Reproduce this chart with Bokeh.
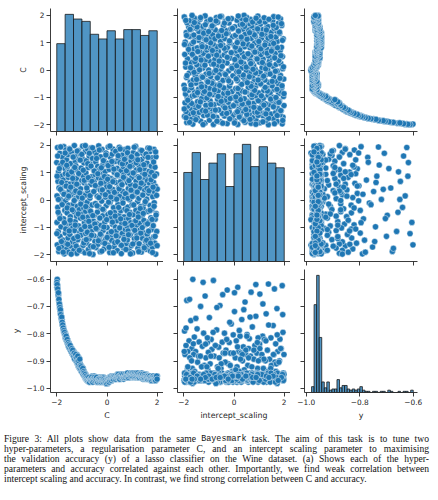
import numpy as np
from bokeh.plotting import figure
from bokeh.layouts import column, row
from bokeh.models import Range1d, FixedTicker, CustomJSTickFormatter, Div, ColumnDataSource
from bokeh.embed import file_html
from bokeh.resources import INLINE

# ---------------- data ----------------
C_vals = [
    -2.00, -1.99, -1.99, -1.98, -1.97, -1.96, -1.95, -1.94, -1.93, -1.92, -1.91, -1.89, -1.88, -1.87, -1.86,
    -1.84, -1.83, -1.82, -1.80, -1.79, -1.78, -1.77, -1.75, -1.74, -1.73, -1.72, -1.70, -1.69, -1.68,
    -1.67, -1.66, -1.66, -1.65, -1.64, -1.64, -1.63, -1.62, -1.61, -1.60, -1.60, -1.59, -1.58, -1.57, -1.56,
    -1.55, -1.55, -1.54, -1.53, -1.52, -1.51, -1.50, -1.49, -1.49, -1.48, -1.47, -1.46, -1.45, -1.44, -1.43,
    -1.42, -1.41, -1.40, -1.39, -1.38, -1.37, -1.36, -1.35, -1.34,
    -1.33, -1.32, -1.31, -1.31, -1.30, -1.29, -1.28, -1.27, -1.26, -1.26, -1.25, -1.24, -1.23, -1.22, -1.21,
    -1.20, -1.20, -1.19, -1.18, -1.17, -1.16, -1.15, -1.14, -1.13, -1.13, -1.12, -1.11, -1.10, -1.09, -1.08,
    -1.07, -1.06, -1.05, -1.04, -1.03, -1.02, -1.01,
    -1.00, -0.99, -0.98, -0.97, -0.97, -0.96, -0.95, -0.94, -0.93, -0.92, -0.91, -0.91, -0.90, -0.89, -0.88,
    -0.87, -0.86, -0.85, -0.85, -0.84, -0.83, -0.82, -0.81, -0.80, -0.79, -0.78, -0.78, -0.77, -0.76, -0.75,
    -0.74, -0.73, -0.72, -0.71, -0.70, -0.68,
    -0.67, -0.66, -0.65, -0.64, -0.63, -0.62, -0.61, -0.60, -0.59, -0.58, -0.56, -0.55, -0.54, -0.53, -0.52,
    -0.51, -0.50, -0.49, -0.48, -0.47, -0.46, -0.45, -0.44, -0.43, -0.42, -0.41, -0.40, -0.39, -0.38, -0.37,
    -0.36, -0.34,
    -0.33, -0.32, -0.31, -0.30, -0.29, -0.28, -0.27, -0.26, -0.25, -0.24, -0.23, -0.22, -0.21, -0.20, -0.19,
    -0.18, -0.17, -0.16, -0.15, -0.14, -0.13, -0.12, -0.11, -0.10, -0.09, -0.07, -0.06, -0.05, -0.04, -0.03,
    -0.01,
    0.00, 0.01, 0.03, 0.03, 0.04, 0.05, 0.07, 0.07, 0.08, 0.09, 0.11, 0.12, 0.12, 0.13, 0.15, 0.16, 0.17,
    0.17, 0.19, 0.20, 0.21, 0.22, 0.23, 0.24, 0.24, 0.26, 0.27, 0.28, 0.29, 0.30, 0.31, 0.31, 0.32,
    0.34, 0.35, 0.36, 0.37, 0.38, 0.39, 0.40, 0.41, 0.43, 0.44, 0.45, 0.46, 0.47, 0.48, 0.49, 0.50, 0.51,
    0.52, 0.53, 0.54, 0.55, 0.56, 0.57, 0.58, 0.59, 0.60, 0.61, 0.62, 0.64, 0.65, 0.66,
    0.67, 0.68, 0.69, 0.69, 0.70, 0.71, 0.72, 0.73, 0.74, 0.75, 0.76, 0.77, 0.78, 0.79, 0.80, 0.81, 0.82,
    0.83, 0.83, 0.84, 0.85, 0.86, 0.87, 0.88, 0.89, 0.90, 0.91, 0.92, 0.93, 0.94, 0.95, 0.96, 0.97, 0.99,
    1.00, 1.01, 1.02, 1.03, 1.04, 1.05, 1.06, 1.07, 1.08, 1.09, 1.10, 1.11, 1.12, 1.13, 1.14, 1.15, 1.16,
    1.17, 1.17, 1.18, 1.19, 1.20, 1.21, 1.22, 1.23, 1.24, 1.25, 1.26, 1.27, 1.28, 1.29, 1.30, 1.31, 1.32,
    1.34, 1.35, 1.36, 1.37, 1.38, 1.39, 1.40, 1.41, 1.42, 1.43, 1.44, 1.45, 1.46, 1.47, 1.48, 1.49, 1.50,
    1.51, 1.52, 1.53, 1.54, 1.55, 1.56, 1.57, 1.58, 1.59, 1.60, 1.61, 1.62, 1.63, 1.65, 1.66,
    1.67, 1.68, 1.69, 1.70, 1.71, 1.72, 1.73, 1.74, 1.75, 1.76, 1.77, 1.78, 1.79, 1.80, 1.81, 1.82, 1.83,
    1.84, 1.85, 1.86, 1.87, 1.88, 1.89, 1.90, 1.91, 1.92, 1.93, 1.94, 1.95, 1.96, 1.97, 1.98, 2.00,
    # second set of trials
    -1.995, -1.985, -1.965, -1.945, -1.935, -1.915, -1.895, -1.875, -1.855, -1.845, -1.815, -1.805, -1.785,
    -1.765, -1.745, -1.715, -1.695,
    -1.665, -1.645, -1.625, -1.605, -1.585, -1.565, -1.545, -1.525, -1.505, -1.485, -1.465, -1.445, -1.425,
    -1.405, -1.385, -1.365, -1.345,
    -1.325, -1.305, -1.285, -1.265, -1.245, -1.225, -1.205, -1.185, -1.165, -1.145, -1.125, -1.105, -1.085,
    -1.065, -1.045, -1.025, -1.005,
    -0.985, -0.965, -0.945, -0.925, -0.905, -0.885, -0.865, -0.845, -0.825, -0.805, -0.785, -0.765, -0.745,
    -0.725, -0.705, -0.695, -0.675,
    -0.655, -0.635, -0.615, -0.595, -0.575, -0.565, -0.545, -0.525, -0.505, -0.485, -0.465, -0.435, -0.415,
    -0.395, -0.365, -0.345,
    -0.325, -0.305, -0.285, -0.265, -0.245, -0.225, -0.205, -0.185, -0.165, -0.145, -0.125, -0.105, -0.085,
    -0.065, -0.045, -0.015,
    0.005, 0.025, 0.045, 0.065, 0.085, 0.105, 0.115, 0.135, 0.155, 0.175, 0.195, 0.215, 0.235, 0.255, 0.275,
    0.295, 0.325,
    0.345, 0.365, 0.385, 0.405, 0.425, 0.445, 0.465, 0.485, 0.505, 0.525, 0.545, 0.575, 0.595, 0.615, 0.635,
    0.655,
    0.675, 0.695, 0.715, 0.735, 0.755, 0.775, 0.795, 0.815, 0.835, 0.855, 0.875, 0.895, 0.915, 0.935, 0.955,
    0.975, 0.995,
    1.005, 1.025, 1.045, 1.065, 1.085, 1.105, 1.125, 1.145, 1.165, 1.185, 1.205, 1.225, 1.245, 1.265, 1.285,
    1.305, 1.325,
    1.345, 1.365, 1.385, 1.405, 1.425, 1.445, 1.465, 1.485, 1.505, 1.525, 1.555, 1.575, 1.595, 1.615, 1.635,
    1.655,
    1.675, 1.695, 1.715, 1.735, 1.755, 1.775, 1.795, 1.815, 1.835, 1.855, 1.875, 1.895, 1.915, 1.935, 1.955,
    1.975, 1.995,
]

Y_vals = [
    -0.618, -0.605, -0.630, -0.601, -0.624, -0.640, -0.648, -0.662, -0.655, -0.678, -0.684, -0.697, -0.708,
    -0.700, -0.719, -0.727, -0.741, -0.736, -0.752, -0.748, -0.764, -0.770, -0.782, -0.775, -0.786, -0.795,
    -0.790, -0.803, -0.798,
    -0.809, -0.798, -0.815, -0.804, -0.812, -0.820, -0.809, -0.821, -0.815, -0.826, -0.818, -0.831, -0.821,
    -0.832, -0.826, -0.837, -0.830, -0.843, -0.832, -0.843, -0.838, -0.848, -0.843, -0.854, -0.846, -0.854,
    -0.849, -0.860, -0.854, -0.865, -0.857, -0.865, -0.860, -0.871, -0.865, -0.876, -0.868, -0.876, -0.871,
    -0.876, -0.865, -0.882, -0.871, -0.876, -0.888, -0.871, -0.882, -0.893, -0.876, -0.888, -0.899, -0.882,
    -0.893, -0.888, -0.904, -0.876, -0.899, -0.910, -0.893, -0.904, -0.916, -0.899, -0.910, -0.921, -0.888,
    -0.916, -0.904, -0.927, -0.916, -0.910, -0.921, -0.932, -0.921, -0.927, -0.938, -0.932,
    -0.921, -0.938, -0.927, -0.932, -0.944, -0.938, -0.927, -0.944, -0.949, -0.938, -0.955, -0.944, -0.949,
    -0.955, -0.944, -0.960, -0.955, -0.949, -0.966, -0.960, -0.955, -0.966, -0.960, -0.971, -0.966, -0.960,
    -0.971, -0.966, -0.971, -0.960, -0.966, -0.971, -0.977, -0.966, -0.971, -0.966,
    -0.971, -0.960, -0.966, -0.977, -0.966, -0.960, -0.971, -0.966, -0.955, -0.966, -0.971, -0.960, -0.966,
    -0.960, -0.971, -0.955, -0.966, -0.960, -0.971, -0.966, -0.960, -0.966, -0.977, -0.966, -0.960, -0.971,
    -0.966, -0.977, -0.971, -0.966, -0.960, -0.971,
    -0.966, -0.977, -0.971, -0.966, -0.960, -0.971, -0.977, -0.966, -0.971, -0.960, -0.966, -0.971, -0.977,
    -0.966, -0.960, -0.971, -0.966, -0.977, -0.971, -0.966, -0.960, -0.971, -0.977, -0.966, -0.971, -0.966,
    -0.977, -0.971, -0.982, -0.977, -0.971,
    -0.977, -0.971, -0.982, -0.966, -0.977, -0.971, -0.966, -0.977, -0.971, -0.960, -0.966, -0.971, -0.960,
    -0.966, -0.971, -0.960, -0.966, -0.955, -0.966, -0.960, -0.971, -0.960, -0.966, -0.955, -0.966, -0.960,
    -0.966, -0.955, -0.960, -0.966, -0.955, -0.960, -0.966,
    -0.960, -0.966, -0.955, -0.960, -0.966, -0.955, -0.960, -0.949, -0.960, -0.966, -0.955, -0.960, -0.949,
    -0.955, -0.966, -0.960, -0.955, -0.960, -0.949, -0.955, -0.960, -0.966, -0.955, -0.960, -0.955, -0.949,
    -0.960, -0.955, -0.960, -0.955, -0.966,
    -0.955, -0.960, -0.949, -0.955, -0.960, -0.955, -0.949, -0.955, -0.960, -0.955, -0.949, -0.955, -0.960,
    -0.949, -0.955, -0.960, -0.955, -0.949, -0.960, -0.955, -0.944, -0.955, -0.949, -0.960, -0.955, -0.949,
    -0.955, -0.944, -0.955, -0.960, -0.949, -0.955, -0.944, -0.955,
    -0.949, -0.955, -0.944, -0.949, -0.955, -0.944, -0.949, -0.960, -0.944, -0.949, -0.955, -0.944, -0.949,
    -0.955, -0.944, -0.949, -0.955, -0.944, -0.960, -0.949, -0.944, -0.955, -0.949, -0.944, -0.955, -0.949,
    -0.960, -0.944, -0.949, -0.955, -0.949, -0.944, -0.955, -0.949,
    -0.955, -0.944, -0.960, -0.949, -0.955, -0.944, -0.960, -0.949, -0.955, -0.966, -0.949, -0.955, -0.960,
    -0.949, -0.955, -0.966, -0.955, -0.960, -0.949, -0.955, -0.960, -0.966, -0.955, -0.960, -0.949, -0.955,
    -0.966, -0.960, -0.955, -0.960, -0.966, -0.955,
    -0.960, -0.955, -0.966, -0.960, -0.955, -0.966, -0.960, -0.971, -0.955, -0.960, -0.966, -0.960, -0.955,
    -0.966, -0.960, -0.971, -0.966, -0.960, -0.955, -0.966, -0.960, -0.971, -0.966, -0.960, -0.966, -0.955,
    -0.960, -0.971, -0.966, -0.960, -0.966, -0.960, -0.955,
    # second set of trials
    -0.612, -0.620, -0.636, -0.657, -0.650, -0.674, -0.691, -0.704, -0.712, -0.730, -0.744, -0.739, -0.758,
    -0.768, -0.779, -0.788, -0.795,
    -0.804, -0.815, -0.809, -0.826, -0.821, -0.837, -0.832, -0.848, -0.838, -0.854, -0.843, -0.860, -0.865,
    -0.854, -0.871, -0.860, -0.876,
    -0.882, -0.871, -0.893, -0.882, -0.876, -0.899, -0.888, -0.904, -0.882, -0.910, -0.899, -0.921, -0.893,
    -0.927, -0.916, -0.921, -0.938,
    -0.932, -0.927, -0.949, -0.938, -0.944, -0.955, -0.949, -0.960, -0.955, -0.966, -0.960, -0.971, -0.966,
    -0.960, -0.971, -0.977, -0.966,
    -0.966, -0.971, -0.960, -0.971, -0.966, -0.977, -0.966, -0.971, -0.960, -0.966, -0.971, -0.966, -0.960,
    -0.971, -0.977, -0.966,
    -0.971, -0.966, -0.977, -0.971, -0.966, -0.977, -0.971, -0.966, -0.971, -0.977, -0.966, -0.971, -0.977,
    -0.971, -0.977, -0.982,
    -0.971, -0.977, -0.966, -0.971, -0.977, -0.966, -0.971, -0.960, -0.966, -0.971, -0.960, -0.966, -0.960,
    -0.966, -0.955, -0.960, -0.955,
    -0.966, -0.960, -0.955, -0.960, -0.955, -0.949, -0.960, -0.955, -0.966, -0.955, -0.960, -0.949, -0.960,
    -0.955, -0.949, -0.960,
    -0.960, -0.955, -0.949, -0.960, -0.955, -0.949, -0.955, -0.944, -0.955, -0.960, -0.949, -0.955, -0.949,
    -0.944, -0.955, -0.949, -0.944,
    -0.955, -0.944, -0.949, -0.955, -0.949, -0.944, -0.955, -0.949, -0.944, -0.955, -0.949, -0.944, -0.955,
    -0.949, -0.960, -0.949, -0.955,
    -0.949, -0.955, -0.960, -0.955, -0.949, -0.960, -0.955, -0.960, -0.949, -0.955, -0.960, -0.955, -0.960,
    -0.966, -0.955, -0.960,
    -0.966, -0.960, -0.955, -0.966, -0.960, -0.971, -0.960, -0.966, -0.955, -0.960, -0.966, -0.960, -0.966,
    -0.971, -0.960, -0.955, -0.966,
]

IS_vals = [
    1.37, -0.82, 0.15, -1.64, 1.92, -0.27, 0.68, -1.15, 1.03, -1.88, 0.44, -0.56, 1.71, -1.33, 0.02, 1.28, -0.98, 0.87, -1.72, 0.31,
    -0.11, 1.56, -1.47, 0.73, -0.69, 1.95, -1.97, 0.52, -0.38, 1.14, -1.21, 0.96, -0.03, -1.58, 1.83, 0.24, -0.91, 1.47, -1.79, 0.61,
    -0.47, 1.21, -1.06, 0.09, 1.66, -1.39, 0.83, -0.19, -1.91, 1.02, 0.37, -0.74, 1.88, -1.26, 0.58, -0.61, 1.33, -1.68, 0.19, -0.88,
    1.74, -0.32, 0.91, -1.53, 0.47, -1.02, 1.59, -0.14, 1.11, -1.84, 0.66, -0.43, 1.99, -1.12, 0.28, -0.79, 1.42, -1.61, 0.05, 1.25,
    -1.36, 0.79, -0.59, 1.63, -1.95, 0.34, -0.23, 1.08, -1.45, 0.55, 1.81, -0.95, 0.12, -1.76, 1.49, -0.35, 0.94, -1.18, 1.69, -0.66,
    0.41, -1.29, 1.17, -0.07, -1.86, 0.71, 1.53, -0.52, -1.04, 1.97, 0.21, -1.66, 0.88, -0.29, 1.36, -1.49, 0.63, -0.84, 1.06, -1.93,
    0.17, 1.78, -0.41, -1.23, 0.99, -0.71, 1.44, -1.57, 0.49, -0.08, 1.87, -1.09, 0.33, -0.63, 1.19, -1.81, 0.76, -0.31, 1.61, -1.41,
    0.07, -0.97, 1.31, -1.69, 0.57, 1.91, -0.49, -1.16, 0.86, -0.18, 1.52, -1.99, 0.27, -0.77, 1.09, -1.31, 0.69, 1.76, -0.55, -1.52,
    0.93, -0.13, 1.39, -1.74, 0.43, -0.86, 1.65, -1.07, 0.14, -0.44, 1.23, -1.62, 0.81, 1.98, -0.25, -1.38, 0.53, -0.67, 1.13, -1.89,
    0.36, 1.58, -0.93, -1.27, 0.74, -0.04, 1.85, -1.54, 0.23, -0.58, 1.29, -1.11, 0.97, -0.36, 1.46, -1.78, 0.62, -0.81, 1.04, 0.11,
    -1.43, 1.72, -0.21, 0.48, -1.01, 1.34, -1.65, 0.84, -0.53, 1.94, -1.24, 0.29, -0.72, 1.12, -1.92, 0.59, -0.09, 1.57, -1.34, 0.78,
    -0.64, 1.27, -1.48, 0.04, 1.68, -0.89, 0.39, -1.19, 1.86, -0.28, 0.72, -1.71, 1.01, -0.46, 0.18, -1.56, 1.41, -0.99, 0.64, 1.79,
    -1.14, 0.26, -0.76, 1.16, -1.85, 0.89, -0.16, 1.51, -1.32, 0.46, -0.57, 1.93, -1.03, 0.13, 1.37, -1.63, 0.67, -0.39, 1.07, -1.96,
    0.54, -0.87, 1.64, -1.22, 0.32, -0.02, 1.22, -1.75, 0.92, -0.62, 1.45, -1.37, 0.08, 1.84, -0.33, -1.08, 0.77, -0.73, 1.32, -1.59,
    0.22, 1.55, -0.96, -1.46, 0.63, -0.26, 1.89, -1.13, 0.42, -0.68, 1.18, -1.83, 0.98, 0.01, -0.45, 1.62, -1.28, 0.56, -0.83, 1.43,
    -1.67, 0.82, -0.17, 1.26, -1.94, 0.38, -0.54, 1.73, -1.05, 0.16, 0.95, -1.42, 1.49, -0.78, 0.29, -1.17, 1.96, -0.37, 0.69, -1.55,
    1.10, -0.92, 0.51, -1.30, 1.67, -0.06, -1.77, 0.85, 1.38, -0.48, 0.06, -1.60, 1.22, -0.85, 0.44, -1.10, 1.82, -0.24, 0.75, -1.90,
    1.48, -0.60, 0.19, -1.40, 0.99, 1.70, -0.30, -1.20, 0.58, -0.75, 1.15, -1.70, 0.35, -0.12, 1.60, -1.50, 0.80, -0.90, 1.30, -1.80,
    0.03, 1.35, -1.25, 0.70, -0.42, 1.90, -1.62, 0.25, -0.80, 1.05, -1.44, 0.60, 1.77, -0.20, -1.87, 0.90, -0.65, 1.24, -1.08, 0.45,
    -0.34, 1.54, -1.73, 0.12, 1.00, -0.94, 0.65, -1.35, 1.85, -0.10, 0.30, -1.58, 1.20, -0.70, 0.50, -1.98, 1.58, -0.50, 0.95, -1.15,
    0.40,
    # second set of trials
    -1.23, 0.87, 1.61, -0.45, 0.02, -1.77, 1.15, -0.68, 0.39, 1.94, -1.52, 0.64, -0.17, 1.38, -1.91, 0.21, -0.83, 1.72, -1.06, 0.51,
    1.27, -0.29, -1.62, 0.93, 0.14, -1.13, 1.86, -0.74, 0.47, -1.98, 1.03, -0.36, 0.79, 1.57, -1.41, -0.02, 1.19, -0.92, 0.33, -1.69,
    0.58, 1.79, -1.34, -0.51, 0.97, -1.84, 0.26, 1.46, -0.15, -1.08, 1.67, 0.07, -0.63, 1.09, -1.57, 0.72, -0.97, 1.99, -0.24, -1.45,
    0.44, -1.18, 1.33, 0.82, -0.78, 1.71, -1.96, 0.16, -0.41, 1.24, -1.29, 0.68, 1.91, -0.57, -1.71, 0.31, 1.06, -0.88, 0.53, -1.04,
    1.52, -0.21, 0.96, -1.49, 0.09, 1.83, -0.66, -1.25, 0.61, 1.18, -1.87, 0.37, -0.34, 1.44, -0.99, 0.86, -1.59, 0.19, 1.65, -0.72,
    -1.37, 0.76, 1.26, -0.08, -1.73, 0.49, 1.97, -0.47, 0.11, -1.16, 1.41, -0.81, 0.67, -1.93, 1.13, 0.28, -0.59, 1.78, -1.31, 0.03,
    0.92, -1.53, 1.62, -0.27, 0.41, -1.02, 1.87, -0.69, -1.66, 0.56, 1.32, -0.11, 0.83, -1.44, 1.49, -0.86, 0.23, -1.81, 1.07, -0.39,
    1.73, 0.06, -1.27, 0.71, -0.53, 1.23, -1.97, 0.36, 1.58, -0.93, 0.13, -1.61, 0.99, -0.18, 1.93, -1.11, 0.52, -0.76, 1.36, -1.39,
    0.29, 1.47, -0.62, -1.89, 0.81, 1.11, -0.31, -1.21, 0.62, 1.81, -1.01, 0.18, -0.49, 1.29, -1.75, 0.94, -0.06, 1.68, -1.47, 0.42,
    -0.87, 1.56, -1.14, 0.34, 1.89, -0.38, -1.58, 0.74, 1.01, -0.71, -1.92, 0.47, 1.39, -0.23, 0.88, -1.33, 1.76, -0.55, 0.17, -1.67,
]

# histogram counts (diagonal panels)
C_hist_counts = [75, 100, 96, 94, 83, 79, 86, 79, 87, 87, 82, 86]
IS_hist_counts = [76, 93, 70, 84, 92, 64, 92, 100, 81, 98, 84, 80]
Y_hist_counts = [5, 75, 100, 47, 9, 4, 9, 2, 3, 3, 11, 4, 6, 6, 3, 2, 3, 2, 3, 5,
                 2, 1, 1, 0, 1, 1, 0, 1, 1, 0, 2, 1, 0, 0, 1, 0, 1, 1, 0, 2]
C_bin_edges = [-2.0, -1.667, -1.333, -1.0, -0.667, -0.333, 0.0, 0.333, 0.667, 1.0, 1.333, 1.667, 2.0]
IS_bin_edges = [-2.0, -1.667, -1.333, -1.0, -0.667, -0.333, 0.0, 0.333, 0.667, 1.0, 1.333, 1.667, 2.0]
Y_bin_edges = list(np.linspace(-0.98, -0.60, len(Y_hist_counts) + 1))

var_ticks = [-2, -1, 0, 1, 2]
var_xticks = [-2, 0, 2]
y_ticks = [-1.0, -0.9, -0.8, -0.7, -0.6]
y_xticks = [-1.0, -0.8, -0.6]

# ---------------- styling ----------------
BLUE = "#1f77b4"
INK = "#262626"
FW, FH = 113, 123
TICK_FONT = "7.4px"
LABEL_FONT = "7.9px"

n = min(len(C_vals), len(IS_vals), len(Y_vals))
src = ColumnDataSource(dict(C=C_vals[:n], IS=IS_vals[:n], Y=Y_vals[:n]))

INT_FMT = "return (tick < 0 ? '\\u2212' : '') + Math.abs(tick).toFixed(0);"
DEC_FMT = "return (tick < 0 ? '\\u2212' : '') + Math.abs(tick).toFixed(1);"

ranges_x = {"C": (-2.25, 2.25), "IS": (-2.25, 2.25), "Y": (-1.0064, -0.584)}
ranges_y = {"C": (-2.25, 2.25), "IS": (-2.25, 2.25), "Y": (-1.015, -0.565)}
xt = {"C": var_xticks, "IS": var_xticks, "Y": y_xticks}
yt = {"C": var_ticks, "IS": var_ticks, "Y": y_ticks}
fmt = {"C": INT_FMT, "IS": INT_FMT, "Y": DEC_FMT}
names = {"C": "C", "IS": "intercept_scaling", "Y": "y"}
order = ["C", "IS", "Y"]

border_left = [50, 14, 14]
border_right = [0, 0, 21]
border_top = [8, 0, 0]
border_bottom = [7, 8, 42]


def style_axis(ax, ticks, code, show, label):
    ax.ticker = FixedTicker(ticks=ticks)
    ax.formatter = CustomJSTickFormatter(code=code)
    ax.minor_tick_line_color = None
    ax.major_tick_in = 0
    ax.major_tick_out = 4
    ax.axis_line_color = INK
    ax.axis_line_width = 0.9
    ax.major_tick_line_color = INK
    ax.major_tick_line_width = 0.9
    ax.major_label_text_font = "DejaVu Sans"
    if show:
        ax.major_label_text_color = INK
        ax.major_label_text_font_size = TICK_FONT
        ax.major_label_standoff = 2
        ax.axis_label = label
        ax.axis_label_text_font = "DejaVu Sans"
        ax.axis_label_text_font_size = LABEL_FONT
        ax.axis_label_text_font_style = "normal"
        ax.axis_label_text_color = INK
        ax.axis_label_standoff = 3
    else:
        # ticks only, no tick labels (inner panels)
        ax.major_label_text_color = None
        ax.major_label_text_font_size = "1px"
        ax.major_label_standoff = 0
        ax.axis_label = None


rows = []
for r, yv in enumerate(order):
    figs = []
    for c, xv in enumerate(order):
        p = figure(frame_width=FW, frame_height=FH,
                   x_range=Range1d(*ranges_x[xv]), y_range=Range1d(*ranges_y[yv]),
                   min_border_left=border_left[c], min_border_right=border_right[c],
                   min_border_top=border_top[r], min_border_bottom=border_bottom[r],
                   toolbar_location=None, output_backend="svg",
                   outline_line_color=None, background_fill_color="white",
                   border_fill_color="white")
        p.xgrid.visible = False
        p.ygrid.visible = False
        style_axis(p.xaxis[0], xt[xv], fmt[xv], r == 2, names[xv])
        style_axis(p.yaxis[0], yt[yv], fmt[yv], c == 0, names[yv])
        if r == c:
            counts = {"C": C_hist_counts, "IS": IS_hist_counts, "Y": Y_hist_counts}[xv]
            edges = {"C": C_bin_edges, "IS": IS_bin_edges, "Y": Y_bin_edges}[xv]
            p.extra_y_ranges = {"count": Range1d(0, max(counts) * 1.05)}
            p.quad(left=edges[:-1], right=edges[1:], bottom=0, top=counts,
                   y_range_name="count", fill_color=BLUE, fill_alpha=0.78,
                   line_color="#1b1b1b", line_width=0.8)
        else:
            p.scatter(x=xv, y=yv, source=src, size=6.2, fill_color=BLUE,
                      line_color="white", line_width=0.45)
        figs.append(p)
    rows.append(row(*figs, spacing=0))

lines = [
    "Figure 3: All plots show data from the same <span style=\"font-family:'Liberation Mono',monospace;font-size:8.4px;line-height:9px;position:relative;top:-1px;\">Bayesmark</span> task. The aim of this task is to tune two",
    "hyper-parameters, a regularisation parameter C, and an intercept scaling parameter to maximising",
    "the validation accuracy (y) of a lasso classifier on the Wine dataset. (a) Shows each of the hyper-",
    "parameters and accuracy correlated against each other. Importantly, we find weak correlation between",
    "intercept scaling and accuracy. In contrast, we find strong correlation between C and accuracy.",
]
LINE_STYLE = "height:10px;line-height:10px;white-space:nowrap;margin:0;padding:0;overflow:visible;"
html_lines = []
for i, ln in enumerate(lines):
    if i < len(lines) - 1:
        html_lines.append('<div style="' + LINE_STYLE + 'text-align:justify;text-align-last:justify;">' + ln + '</div>')
    else:
        html_lines.append('<div style="' + LINE_STYLE + 'text-align:left;">' + ln + '</div>')
caption_html = ('<div style="font-family:\'Liberation Serif\',\'Times New Roman\',serif;font-size:9.6px;'
                'line-height:10px;color:#111;width:425px;margin:0 0 0 4px;padding:0;">' + "".join(html_lines) + '</div>')
caption = Div(text=caption_html, width=438, height=66, margin=0)

layout = column(*rows, caption, spacing=0)

open("out.html", "w").write(file_html(layout, INLINE))
